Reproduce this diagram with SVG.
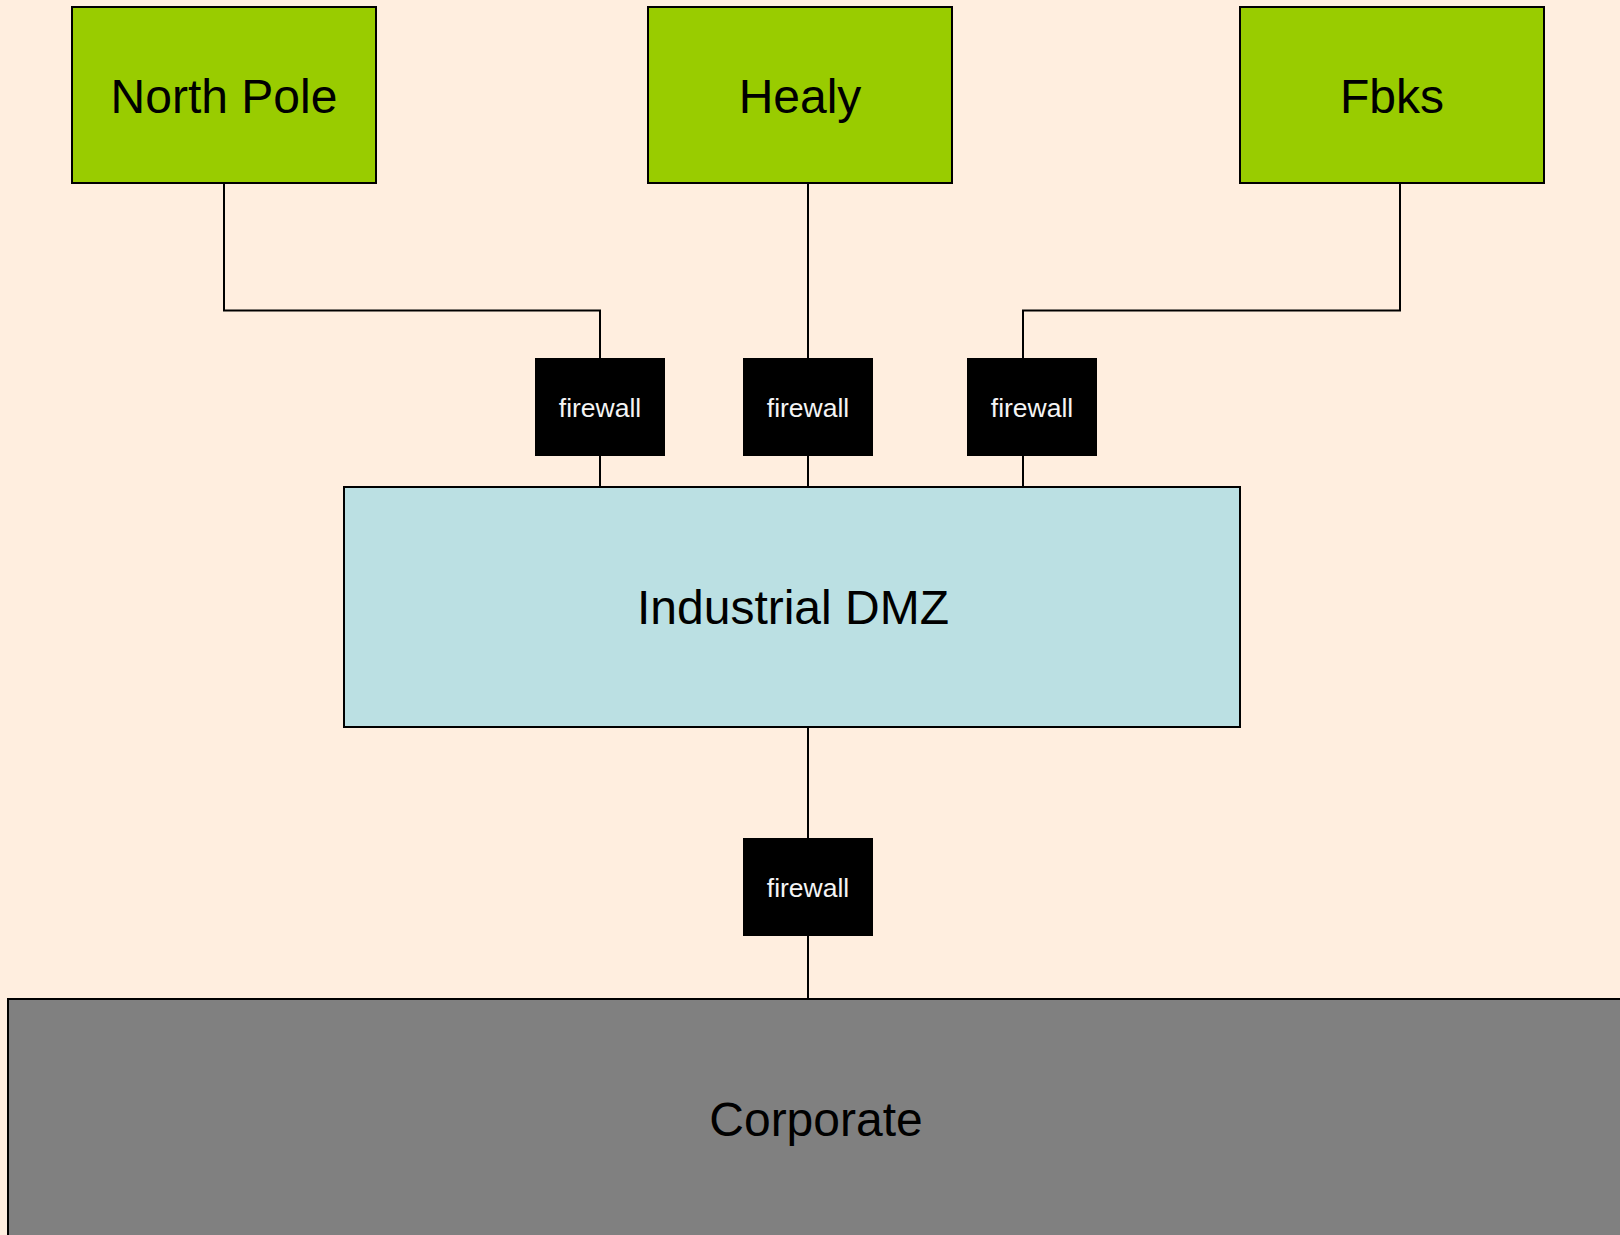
<svg xmlns="http://www.w3.org/2000/svg" width="1620" height="1235" viewBox="0 0 1620 1235">
  <style>
    .site { fill: #99cc00; stroke: #000; stroke-width: 2; }
    .dmz { fill: #bbe0e3; stroke: #000; stroke-width: 2; }
    .corp { fill: #808080; stroke: #000; stroke-width: 2; }
    .fw { fill: #000; }
    .big { font-family: "Liberation Sans", Arial, sans-serif; font-size: 48px; fill: #000; text-anchor: middle; }
    .fwtext { font-family: "Liberation Sans", Arial, sans-serif; font-size: 26.5px; fill: #f4f4f4; text-anchor: middle; }
    .link { fill: none; stroke: #000; stroke-width: 2; }
  </style>
  <rect x="0" y="0" width="1620" height="1235" fill="#ffeedf"/>

  <g id="connectors">
    <polyline class="link" points="224,183 224,310.5 600,310.5 600,358"/>
    <line class="link" x1="808" y1="183" x2="808" y2="358"/>
    <polyline class="link" points="1400,183 1400,310.5 1023,310.5 1023,358"/>
    <line class="link" x1="600" y1="456" x2="600" y2="487"/>
    <line class="link" x1="808" y1="456" x2="808" y2="487"/>
    <line class="link" x1="1023" y1="456" x2="1023" y2="487"/>
    <line class="link" x1="808" y1="727" x2="808" y2="838"/>
    <line class="link" x1="808" y1="936" x2="808" y2="999"/>
  </g>

  <g id="north-pole">
    <rect class="site" x="72" y="7" width="304" height="176"/>
    <text class="big" x="224" y="113">North Pole</text>
  </g>
  <g id="healy">
    <rect class="site" x="648" y="7" width="304" height="176"/>
    <text class="big" x="800" y="113">Healy</text>
  </g>
  <g id="fbks">
    <rect class="site" x="1240" y="7" width="304" height="176"/>
    <text class="big" x="1392" y="113">Fbks</text>
  </g>

  <g id="firewall-north-pole">
    <rect class="fw" x="535" y="358" width="130" height="98"/>
    <text class="fwtext" x="600" y="416.5">firewall</text>
  </g>
  <g id="firewall-healy">
    <rect class="fw" x="743" y="358" width="130" height="98"/>
    <text class="fwtext" x="808" y="416.5">firewall</text>
  </g>
  <g id="firewall-fbks">
    <rect class="fw" x="967" y="358" width="130" height="98"/>
    <text class="fwtext" x="1032" y="416.5">firewall</text>
  </g>

  <g id="industrial-dmz">
    <rect class="dmz" x="344" y="487" width="896" height="240"/>
    <text class="big" x="793" y="624">Industrial DMZ</text>
  </g>

  <g id="firewall-corporate">
    <rect class="fw" x="743" y="838" width="130" height="98"/>
    <text class="fwtext" x="808" y="896.5">firewall</text>
  </g>

  <g id="corporate">
    <rect class="corp" x="8" y="999" width="1616" height="240"/>
    <text class="big" x="816" y="1136">Corporate</text>
  </g>
</svg>
